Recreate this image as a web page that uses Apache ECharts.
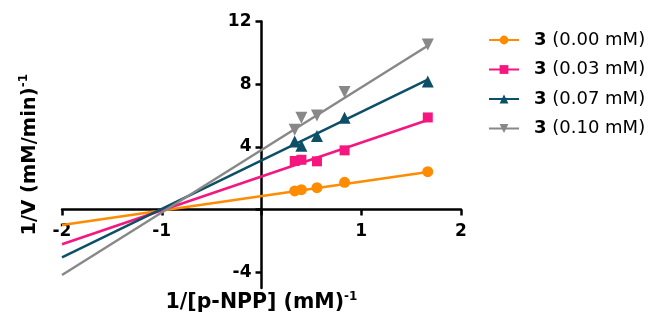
<!DOCTYPE html>
<html>
<head>
<meta charset="utf-8">
<script src="https://cdn.jsdelivr.net/npm/echarts@6/dist/echarts.min.js"></script>
<style>
html,body{margin:0;padding:0;background:#fff;}
#chart{width:655px;height:320px;}
</style>
</head>
<body>
<div id="chart"></div>
<script>
// Data
const xValues = [0.333, 0.4, 0.556, 0.833, 1.667];
const seriesNames = ['3 (0.00 mM)', '3 (0.03 mM)', '3 (0.07 mM)', '3 (0.10 mM)'];
const y000 = [1.19, 1.27, 1.40, 1.74, 2.42];
const y003 = [3.10, 3.18, 3.08, 3.78, 5.88];
const y007 = [4.35, 4.08, 4.69, 5.86, 8.17];
const y010 = [5.10, 5.86, 6.01, 7.50, 10.53];
// fitted lines: endpoints
const fitX = [-2, 1.667];
const fit000 = [-0.98, 2.40];
const fit003 = [-2.21, 5.72];
const fit007 = [-3.04, 8.30];
const fit010 = [-4.17, 10.45];
const xTicks = [-2, -1, 1, 2];
const yTicks = [-4, 0, 4, 8, 12];

const colors = ['#FF8C00', '#F5167F', '#0D4F66', '#888888'];
const symbols = ['circle', 'rect', 'triangle', 'path://M0,0 L10,0 L5,9 Z'];
const symbolSizes = [11, 10, 12, 12];
const pts = [y000, y003, y007, y010];
const fits = [fit000, fit003, fit007, fit010];

const GRID = {left: 62, right: 194, top: 21.5, bottom: 32};
const X_MIN = -2, X_MAX = 2, Y_MIN = -5, Y_MAX = 12;
const plotW = 655 - GRID.left - GRID.right;
const plotH = 320 - GRID.top - GRID.bottom;
// move axes to cross at the origin
const xAxisOffset = -plotH * (0 - Y_MIN) / (Y_MAX - Y_MIN);
const yAxisOffset = -plotW * (0 - X_MIN) / (X_MAX - X_MIN);

const series = [];
for (let i = 0; i < 4; i++) {
  series.push({
    type: 'line',
    name: seriesNames[i],
    symbol: symbols[i],
    symbolSize: symbolSizes[i],
    showSymbol: true,
    color: colors[i],
    lineStyle: {width: 2.5, color: colors[i]},
    itemStyle: {color: colors[i]},
    data: fitX.map((x, j) => ({value: [x, fits[i][j]], symbol: 'none'})),
    z: 2,
    animation: false
  });
}
for (let i = 0; i < 4; i++) {
  series.push({
    type: 'scatter',
    name: seriesNames[i],
    symbol: symbols[i],
    symbolSize: symbolSizes[i],
    itemStyle: {color: colors[i], opacity: 1},
    data: xValues.map((x, j) => [x, pts[i][j]]),
    z: 3,
    animation: false
  });
}

const chart = echarts.init(document.getElementById('chart'));
chart.setOption({
  backgroundColor: '#fff',
  animation: false,
  grid: Object.assign({containLabel: false, outerBoundsMode: 'none'}, GRID),
  legend: {
    orient: 'vertical',
    left: 488,
    top: 31,
    padding: 0,
    itemWidth: 30,
    itemHeight: 11,
    itemGap: 11.5,
    data: seriesNames,
    selectedMode: false,
    textStyle: {
      fontFamily: 'DejaVu Sans',
      fontSize: 18,
      lineHeight: 18,
      color: '#000',
      rich: {
        b: {fontFamily: 'DejaVu Sans', fontWeight: 'bold', fontSize: 18, lineHeight: 18, color: '#000', padding: [0, 0, 0, 10]},
        n: {fontFamily: 'DejaVu Sans', fontSize: 18, lineHeight: 18, color: '#000'}
      }
    },
    formatter: function (name) { return '{b|3}{n| ' + name.slice(2) + '}'; }
  },
  xAxis: {
    type: 'value',
    min: X_MIN, max: X_MAX, interval: 1,
    offset: xAxisOffset,
    axisLine: {onZero: false, lineStyle: {color: '#000', width: 2.5}},
    axisTick: {show: true, length: 6, lineStyle: {color: '#000', width: 2.5}},
    splitLine: {show: false},
    axisLabel: {
      margin: 13,
      fontFamily: 'DejaVu Sans', fontWeight: 'bold', fontSize: 17, color: '#000',
      formatter: function (v) { return xTicks.indexOf(v) >= 0 ? String(v) : ''; }
    },
    name: '{m|1/[p-NPP] (mM)}{s|-1}',
    nameLocation: 'middle',
    nameGap: 81,
    nameTextStyle: {
      rich: {
        m: {fontFamily: 'DejaVu Sans', fontWeight: 'bold', fontSize: 20.5, color: '#000', lineHeight: 24},
        s: {fontFamily: 'DejaVu Sans', fontWeight: 'bold', fontSize: 12, color: '#000', verticalAlign: 'top', lineHeight: 12}
      }
    }
  },
  yAxis: {
    type: 'value',
    min: Y_MIN, max: Y_MAX,
    offset: yAxisOffset,
    axisLine: {onZero: false, lineStyle: {color: '#000', width: 2.5}},
    axisTick: {show: true, length: 6, customValues: yTicks, lineStyle: {color: '#000', width: 2.5}},
    splitLine: {show: false},
    axisLabel: {
      margin: 10,
      customValues: yTicks.filter(v => v !== 0),
      fontFamily: 'DejaVu Sans', fontWeight: 'bold', fontSize: 17, color: '#000'
    },
    name: '{m|1/V (mM/min)}{s|-1}',
    nameLocation: 'middle',
    nameRotate: 90,
    nameGap: 220,
    nameTextStyle: {
      rich: {
        m: {fontFamily: 'DejaVu Sans', fontWeight: 'bold', fontSize: 19.5, color: '#000', lineHeight: 24},
        s: {fontFamily: 'DejaVu Sans', fontWeight: 'bold', fontSize: 12, color: '#000', verticalAlign: 'top', lineHeight: 12}
      }
    }
  },
  series: series
});
</script>
</body>
</html>
